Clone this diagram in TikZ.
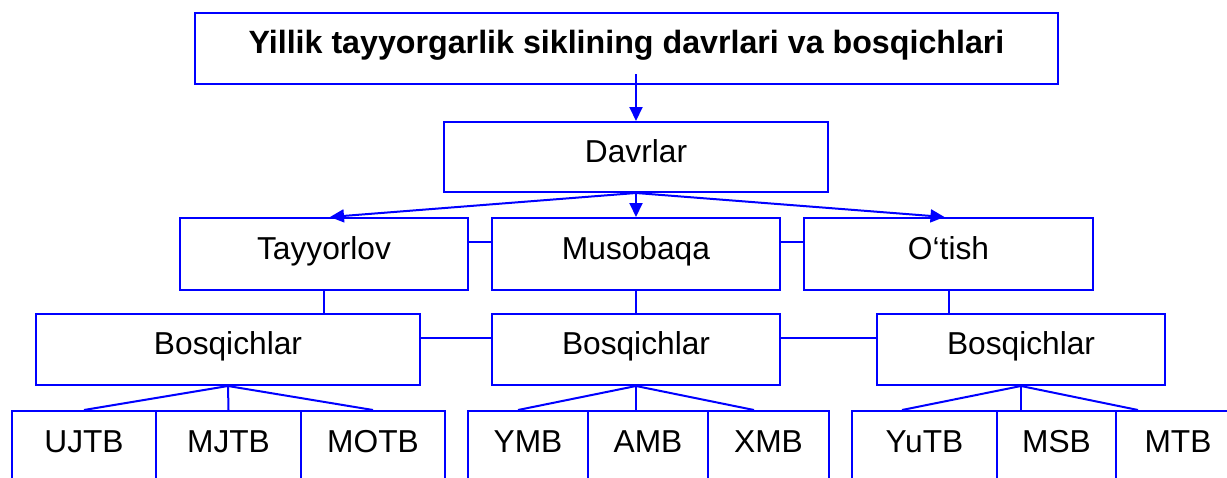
\documentclass[tikz,border=0pt]{standalone}
\usepackage{fontspec}
\setmainfont{Liberation Sans}
\usetikzlibrary{arrows.meta, calc}
\definecolor{lineblue}{HTML}{0000FF}

\begin{document}
\begin{tikzpicture}[x=1pt, y=1pt, line width=2pt,
  >={Triangle[length=14pt, width=13pt]},
  box/.style={draw=lineblue, inner sep=0pt, minimum height=71pt,
    text height=23pt, text depth=13pt, font=\fontsize{31.7}{36}\selectfont},
  cell/.style={box, anchor=north, minimum height=100pt, text depth=40pt}]

% Canvas: 1 px = 1 pt, y measured downwards from the top edge
\useasboundingbox (0,0) rectangle (1227,-477);

% --- Title and periods ---
\node[box, minimum width=863pt, font=\fontsize{32.2}{36}\selectfont\bfseries]
  (title) at (626.5,-48.5) {Yillik tayyorgarlik siklining davrlari va bosqichlari};
\node[box, minimum width=384pt, minimum height=70pt] (davr) at (636,-157) {Davrlar};

\node[box, minimum width=288pt, minimum height=72pt] (tayyor) at (324,-254) {Tayyorlov};
\node[box, minimum width=288pt, minimum height=72pt] (musob) at (636,-254) {Musobaqa};
\node[box, minimum width=289pt, minimum height=72pt] (otish) at (948.5,-254) {O‘tish};

% --- Stages ---
\node[box, minimum width=384pt] (bq1) at (228,-349.5) {Bosqichlar};
\node[box, minimum width=288pt] (bq2) at (636,-349.5) {Bosqichlar};
\node[box, minimum width=288pt] (bq3) at (1021,-349.5) {Bosqichlar};

% --- Bottom row (runs past the lower edge) ---
\node[cell, minimum width=144pt] (ujtb) at (84,-410) {UJTB};
\node[cell, minimum width=145pt] (mjtb) at (228.5,-410) {MJTB};
\node[cell, minimum width=144pt] (motb) at (373,-410) {MOTB};

\node[cell, minimum width=120pt] (ymb) at (528,-410) {YMB};
\node[cell, minimum width=120pt] (amb) at (648,-410) {AMB};
\node[cell, minimum width=121pt] (xmb) at (768.5,-410) {XMB};

\node[cell, minimum width=145pt] (yutb) at (924.5,-410) {YuTB};
\node[cell, minimum width=119pt] (msb) at (1056.5,-410) {MSB};
\node[cell, minimum width=124pt] (mtb) at (1178,-410) {MTB};

% --- Arrows ---
\draw[->, lineblue] ($(davr.north |- title.south)+(0,11)$) -- (davr.north);
\draw[->, lineblue] (davr.south) -- ([xshift=6pt]tayyor.north);
\draw[->, lineblue] (davr.south) -- (musob.north);
\draw[->, lineblue] (davr.south) -- ([xshift=-4pt]otish.north);

% --- Side links ---
\draw[lineblue] ([yshift=12pt]tayyor.east) -- ([yshift=12pt]musob.west);
\draw[lineblue] ([yshift=12pt]musob.east) -- ([yshift=12pt]otish.west);
\draw[lineblue] ([yshift=12pt]bq1.east) -- ([yshift=12pt]bq2.west);
\draw[lineblue] ([yshift=12pt]bq2.east) -- ([yshift=12pt]bq3.west);

% --- Periods to stages ---
\draw[lineblue] (tayyor.south) -- (tayyor.south |- bq1.north);
\draw[lineblue] (musob.south) -- (bq2.north);
\draw[lineblue] (otish.south) -- (otish.south |- bq3.north);

% --- Stages to bottom row ---
\draw[lineblue] (bq1.south) -- (ujtb.north);
\draw[lineblue] (bq1.south) -- (mjtb.north);
\draw[lineblue] (bq1.south) -- (motb.north);

\draw[lineblue] (bq2.south) -- ($(bq2.south |- ymb.north)+(-118,0)$);
\draw[lineblue] (bq2.south) -- (bq2.south |- amb.north);
\draw[lineblue] (bq2.south) -- ($(bq2.south |- xmb.north)+(118,0)$);

\draw[lineblue] (bq3.south) -- ($(bq3.south |- yutb.north)+(-119,0)$);
\draw[lineblue] (bq3.south) -- (bq3.south |- msb.north);
\draw[lineblue] (bq3.south) -- ($(bq3.south |- mtb.north)+(117,0)$);

\end{tikzpicture}
\end{document}
